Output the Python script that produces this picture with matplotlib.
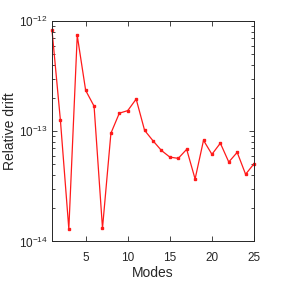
import numpy as np
import matplotlib
matplotlib.use('Agg')
import matplotlib.pyplot as plt
from matplotlib.ticker import LogLocator, NullFormatter

plt.rcParams['font.family'] = ['Liberation Sans', 'DejaVu Sans']
plt.rcParams['mathtext.fontset'] = 'custom'
plt.rcParams['mathtext.rm'] = 'Liberation Sans'
plt.rcParams['mathtext.it'] = 'Liberation Sans:italic'
plt.rcParams['mathtext.bf'] = 'Liberation Sans:bold'
plt.rcParams['mathtext.default'] = 'regular'

# mode index and relative drift
modes = np.arange(1, 26)
drift = [8.3e-13, 1.26e-13, 1.3e-14, 7.4e-13, 2.35e-13, 1.69e-13, 1.32e-14,
         9.6e-14, 1.46e-13, 1.54e-13, 1.96e-13, 1.02e-13, 8.2e-14, 6.7e-14,
         5.83e-14, 5.68e-14, 6.86e-14, 3.69e-14, 8.28e-14, 6.18e-14, 7.8e-14,
         5.26e-14, 6.44e-14, 4.07e-14, 5.08e-14]
xticks = [5, 10, 15, 20, 25]

fig = plt.figure(figsize=(2.81, 2.81), dpi=100)
ax = fig.add_axes([0.185, 0.1406, 0.719, 0.7844])

ax.plot(modes, drift, color='#ff1a1a', linewidth=0.9, marker='s',
        markersize=1.8, clip_on=False)

ax.set_yscale('log')
ax.set_xlim(1, 25)
ax.set_ylim(1e-14, 1e-12)
ax.set_xticks(xticks)
ax.yaxis.set_major_locator(LogLocator(base=10, numticks=10))
ax.yaxis.set_minor_locator(LogLocator(base=10, subs=np.arange(2, 10), numticks=10))
ax.yaxis.set_minor_formatter(NullFormatter())

ax.tick_params(which='both', direction='in', top=True, right=True,
               colors='#262626', labelsize=8.5, width=0.6)
ax.tick_params(which='major', length=3.5)
ax.tick_params(which='minor', length=2)
ax.tick_params(axis='x', which='major', pad=7.5)
ax.tick_params(axis='y', which='major', pad=3)
for s in ax.spines.values():
    s.set_color('#262626')
    s.set_linewidth(0.7)

ax.set_xlabel('Modes', fontsize=10, color='#262626', va='center')
ax.set_ylabel('Relative drift', fontsize=10, color='#262626', va='center')
ax.xaxis.set_label_coords(0.5, -0.1415)
ax.yaxis.set_label_coords(-0.208, 0.5)

plt.savefig('out.png', dpi=100)
